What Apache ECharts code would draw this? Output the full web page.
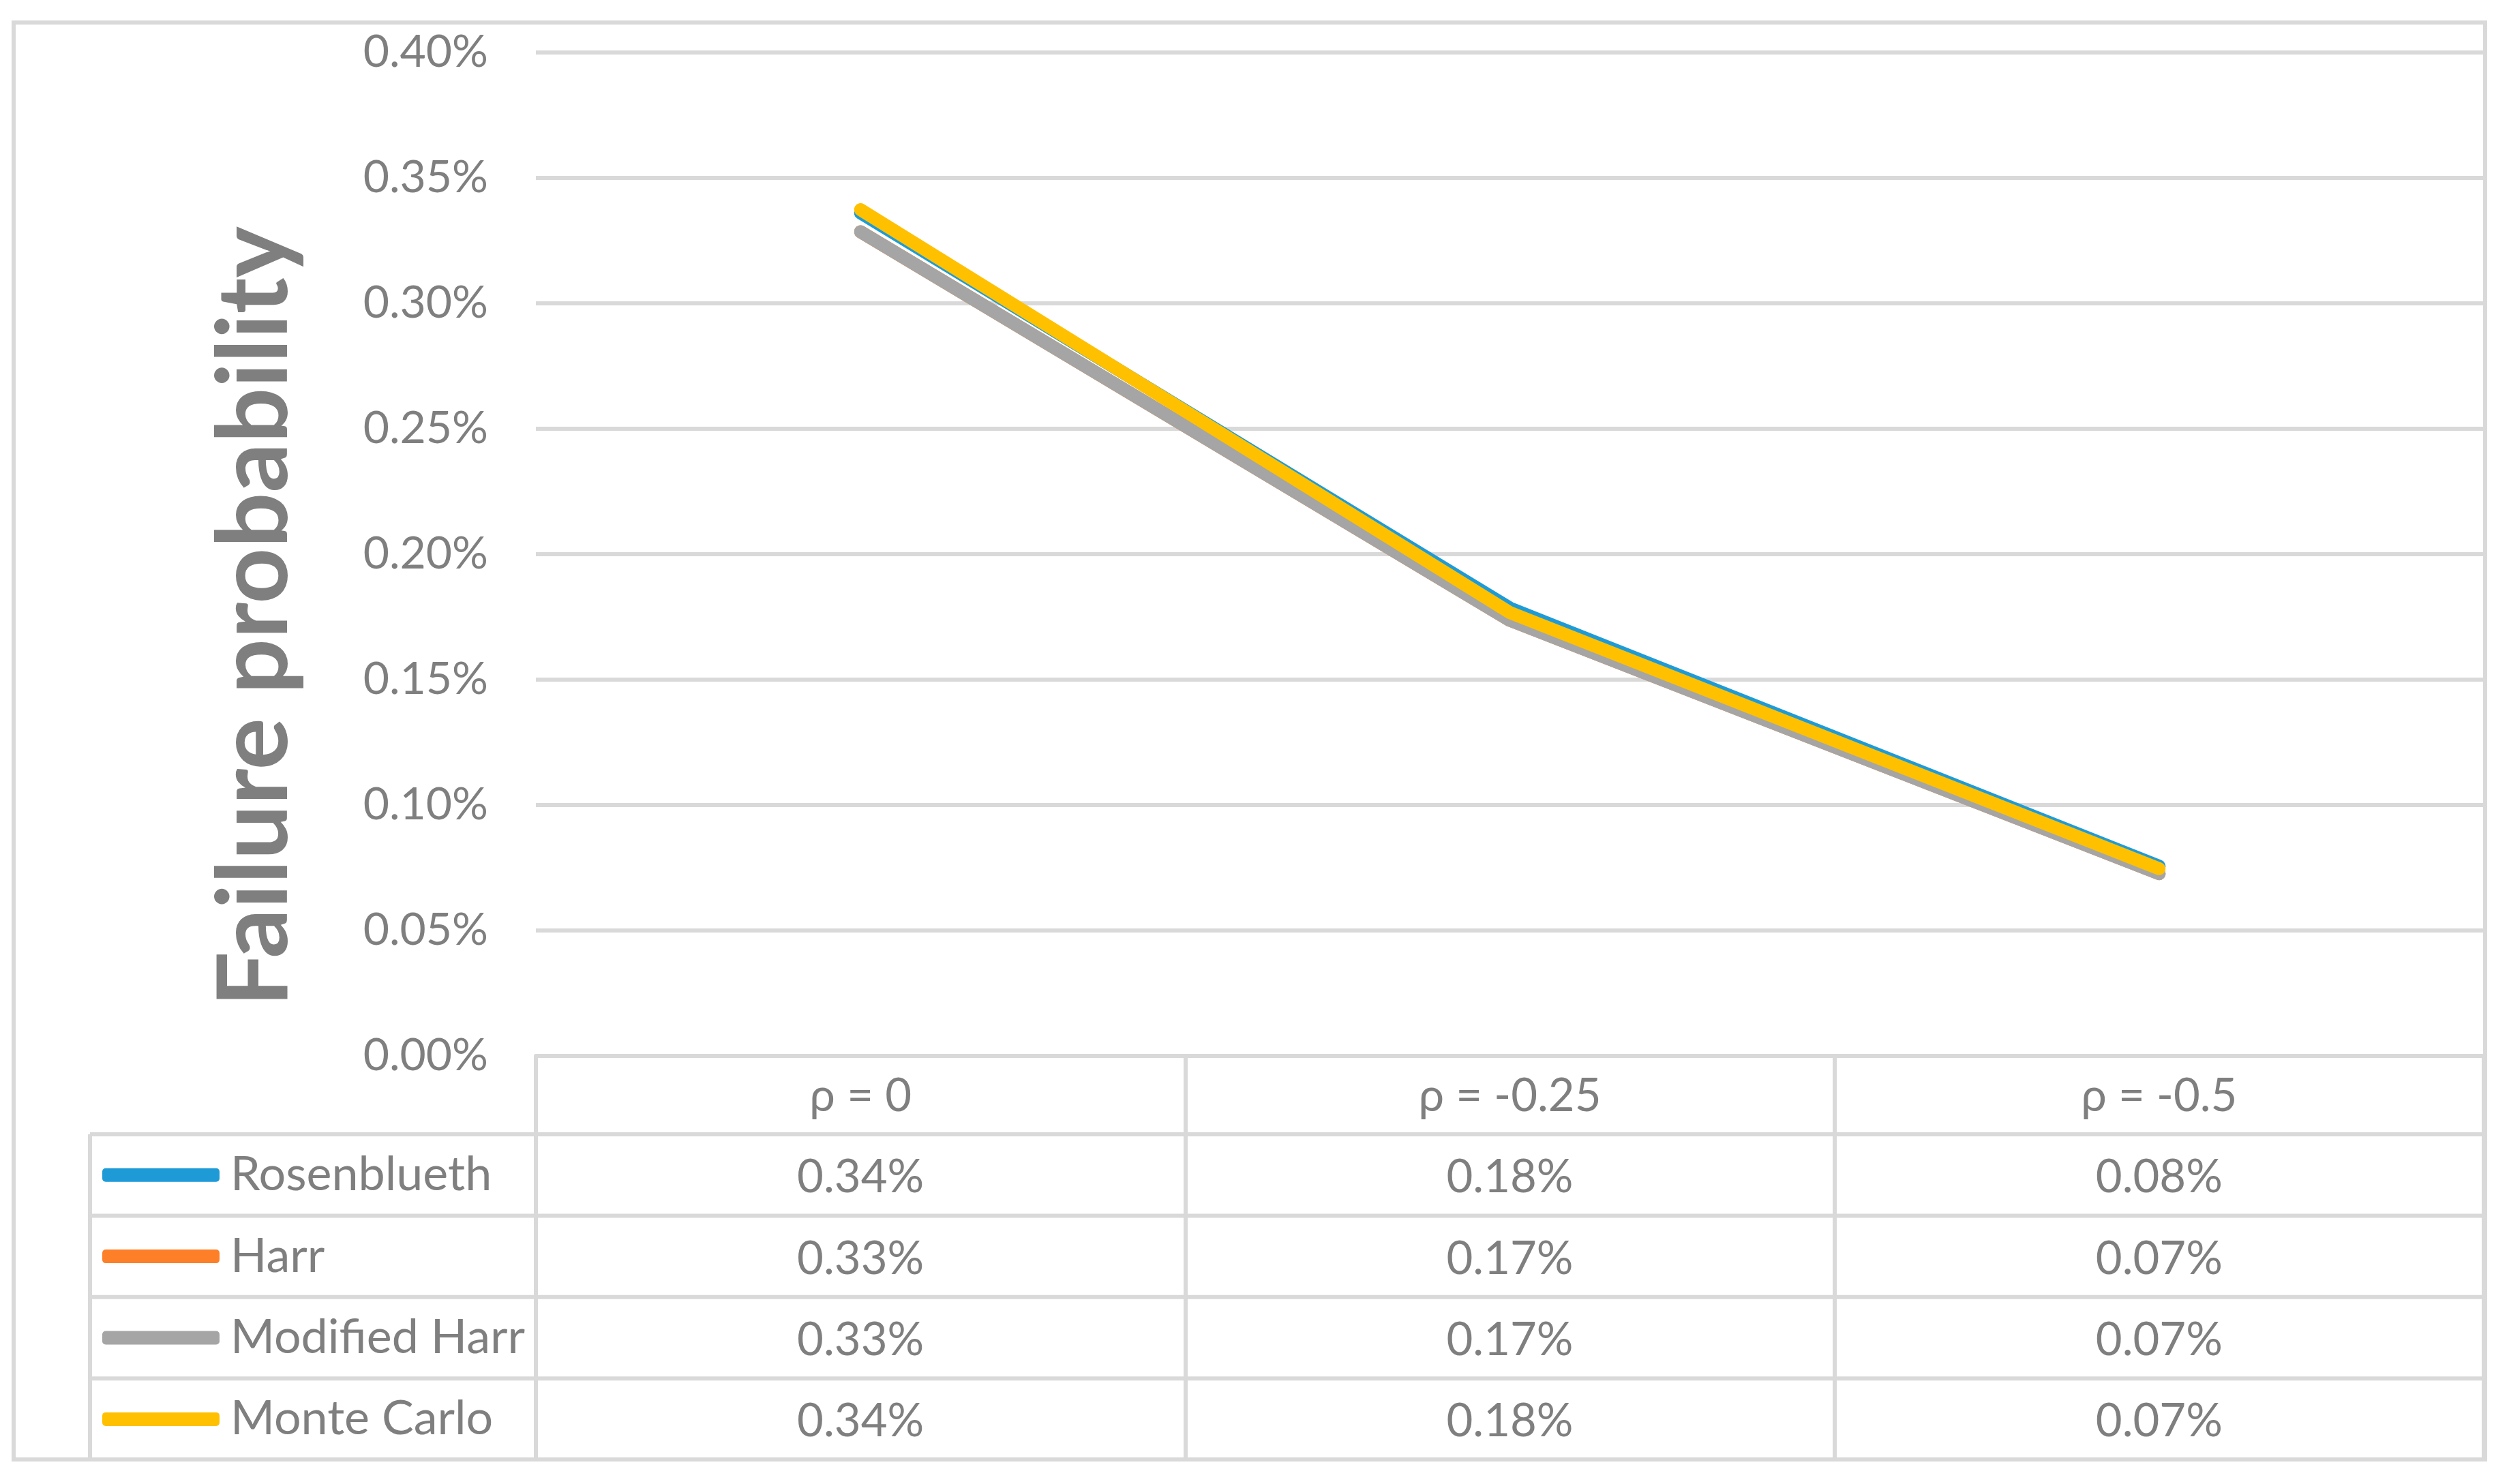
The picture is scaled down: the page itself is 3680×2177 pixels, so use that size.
<!DOCTYPE html>
<html>
<head>
<meta charset="utf-8">
<title>Failure probability</title>
<script src="https://cdn.jsdelivr.net/npm/echarts@6/dist/echarts.min.js"></script>
<style>
  html, body { margin: 0; padding: 0; background: #fff; }
  #chart { width: 3680px; height: 2177px; }
</style>
</head>
<body>
<div id="chart"></div>
<script>
// values are in percent
var categories = ['ρ = 0', 'ρ = -0.25', 'ρ = -0.5'];
var seriesNames = ['Rosenblueth', 'Harr', 'Modified Harr', 'Monte Carlo'];
var rosenblueth = [0.3359, 0.1784, 0.0755];
var harr = [0.3284, 0.1735, 0.0725];
var modifiedHarr = [0.3284, 0.1735, 0.0725];
var monteCarlo = [0.3372, 0.1766, 0.0745];
var yMin = 0, yMax = 0.4, yStep = 0.05;

document.addEventListener('DOMContentLoaded', function () {
  var allValues = [rosenblueth, harr, modifiedHarr, monteCarlo];
  var colors = ['#1e9bd7', '#fd7f27', '#a5a5a5', '#ffc000'];
  var gray = '#7f7f7f';
  var lineGray = '#d9d9d9';

  // layout of the data table under the plot
  var plotLeft = 786, plotRight = 3643, plotTop = 76.5, plotBottom = 1548.5;
  var rowH = 119.4;
  var firstRow = 1664;
  var tableBottom = 2141;
  var legendLeft = 132;

  var graphics = [{
    type: 'rect',
    shape: { x: 20, y: 33, width: 3625, height: 2108 },
    style: { fill: 'none', stroke: lineGray, lineWidth: 6 }
  }, {
    type: 'line',
    shape: { x1: legendLeft, y1: firstRow, x2: legendLeft, y2: tableBottom },
    style: { stroke: lineGray, lineWidth: 6 }
  }];
  for (var r = 0; r < 4; r++) {
    var y = firstRow + r * rowH;
    graphics.push({
      type: 'line',
      shape: { x1: legendLeft, y1: y, x2: plotRight, y2: y },
      style: { stroke: lineGray, lineWidth: 6 }
    });
  }

  var chart = echarts.init(document.getElementById('chart'));
  var option = {
    animation: false,
    backgroundColor: '#fff',
    grid: {
      left: plotLeft, right: 3680 - plotRight, top: plotTop, bottom: 2177 - plotBottom,
      containLabel: false, outerBoundsMode: 'none'
    },
    legend: {
      orient: 'vertical',
      left: 150,
      top: firstRow,
      padding: 0,
      itemGap: 0,
      itemWidth: 172,
      itemHeight: 20,
      icon: 'roundRect',
      selectedMode: false,
      textStyle: { fontFamily: 'Lato', fontSize: 70, color: gray, lineHeight: rowH, padding: [0, 0, 0, 11] },
      data: seriesNames
    },
    xAxis: {
      type: 'category',
      data: categories,
      boundaryGap: true,
      axisLine: { show: true, lineStyle: { color: lineGray, width: 6 } },
      axisTick: { show: true, length: tableBottom - plotBottom, lineStyle: { color: lineGray, width: 6 } },
      axisLabel: {
        interval: 0,
        margin: 0,
        fontFamily: 'Lato',
        fontSize: 67,
        color: gray,
        lineHeight: rowH,
        formatter: function (value, idx) {
          var lines = [value];
          allValues.forEach(function (arr) { lines.push(arr[idx].toFixed(2) + '%'); });
          return lines.join('\n');
        }
      }
    },
    yAxis: {
      type: 'value',
      min: yMin,
      max: yMax,
      interval: yStep,
      name: 'Failure probability',
      nameLocation: 'middle',
      nameRotate: 90,
      nameGap: 340,
      nameTextStyle: { fontFamily: 'Lato', fontWeight: 'bold', fontSize: 143, color: gray, padding: [0, 184, 0, 0] },
      axisLine: { show: false },
      axisTick: { show: false },
      splitLine: { lineStyle: { color: lineGray, width: 6 } },
      axisLabel: {
        margin: 70,
        fontFamily: 'Lato',
        fontSize: 66,
        color: gray,
        formatter: function (v) { return v.toFixed(2) + '%'; }
      }
    },
    graphic: graphics,
    series: seriesNames.map(function (name, i) {
      return {
        name: name,
        type: 'line',
        data: allValues[i],
        symbol: 'none',
        color: colors[i],
        lineStyle: { width: 19, color: colors[i], cap: 'round', join: 'round' }
      };
    })
  };
  chart.setOption(option);
});
</script>
</body>
</html>
